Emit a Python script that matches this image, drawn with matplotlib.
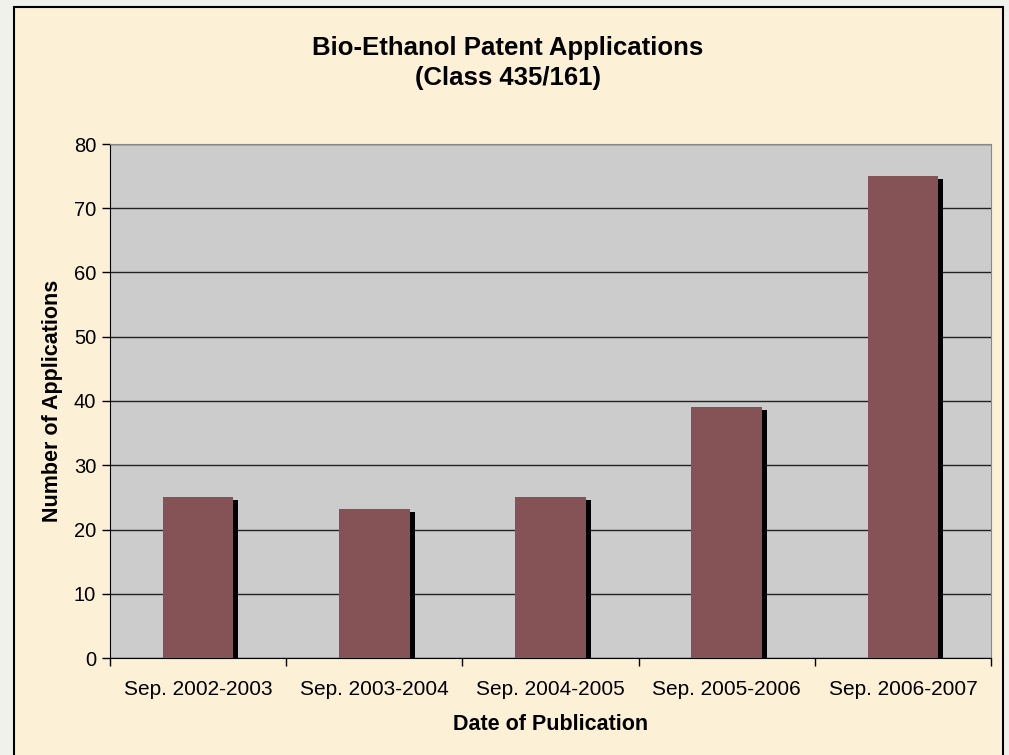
import matplotlib
matplotlib.use("Agg")
import matplotlib.pyplot as plt
from matplotlib.patches import Rectangle
from matplotlib.ticker import FixedLocator, NullFormatter

periods = ["Sep. 2002-2003", "Sep. 2003-2004", "Sep. 2004-2005",
           "Sep. 2005-2006", "Sep. 2006-2007"]
applications = [25, 23.2, 25, 39, 75]

plt.rcParams["font.family"] = ["Liberation Sans", "DejaVu Sans"]

W, H = 1009, 755
fig = plt.figure(figsize=(W / 100, H / 100), dpi=100, facecolor="#EFF1EA")

# parchment panel behind the chart
fig.patches.append(Rectangle((14 / W, -0.01), 989 / W, 1 - 7 / H + 0.01,
                             transform=fig.transFigure, facecolor="#FCF0D6",
                             edgecolor="black", linewidth=1.5, zorder=-1))

ax = fig.add_axes([110 / W, 1 - 658 / H, 881 / W, 514 / H])
ax.set_facecolor("#CCCCCC")

x = list(range(len(periods)))
w = 0.4
# drop shadow
dx = 5 / 176
dy = 3 / (514 / 80)
ax.bar([i + dx for i in x], [v - dy for v in applications], width=w,
       color="black", zorder=2)
ax.bar(x, applications, width=w, color="#855356", zorder=3)

ax.set_xlim(-0.5, len(periods) - 0.5)
ax.set_ylim(0, 80)
ax.set_yticks(range(0, 81, 10))
ax.yaxis.grid(True, color="#222222", linewidth=1)
ax.set_axisbelow(True)

ax.set_xticks(x)
ax.set_xticklabels(periods, fontsize=15)
ax.tick_params(axis="x", length=0, pad=16)
ax.xaxis.set_minor_locator(FixedLocator([i - 0.5 for i in range(len(periods) + 1)]))
ax.xaxis.set_minor_formatter(NullFormatter())
ax.tick_params(axis="x", which="minor", length=6, width=1, color="black")
ax.tick_params(axis="y", length=6, width=1, labelsize=14.5, pad=4)

for s in ["top", "right"]:
    ax.spines[s].set_color("#888888")
for s in ["left", "bottom"]:
    ax.spines[s].set_color("black")

ax.set_ylabel("Number of Applications", fontsize=15.5, fontweight="bold", labelpad=8)
ax.set_xlabel("Date of Publication", fontsize=15.5, fontweight="bold", labelpad=11)

fig.text(508 / W, 1 - 63 / H, "Bio-Ethanol Patent Applications\n(Class 435/161)",
         ha="center", va="center", fontsize=18.5, fontweight="bold", linespacing=1.35)

fig.savefig("out.png", dpi=100, facecolor=fig.get_facecolor())
